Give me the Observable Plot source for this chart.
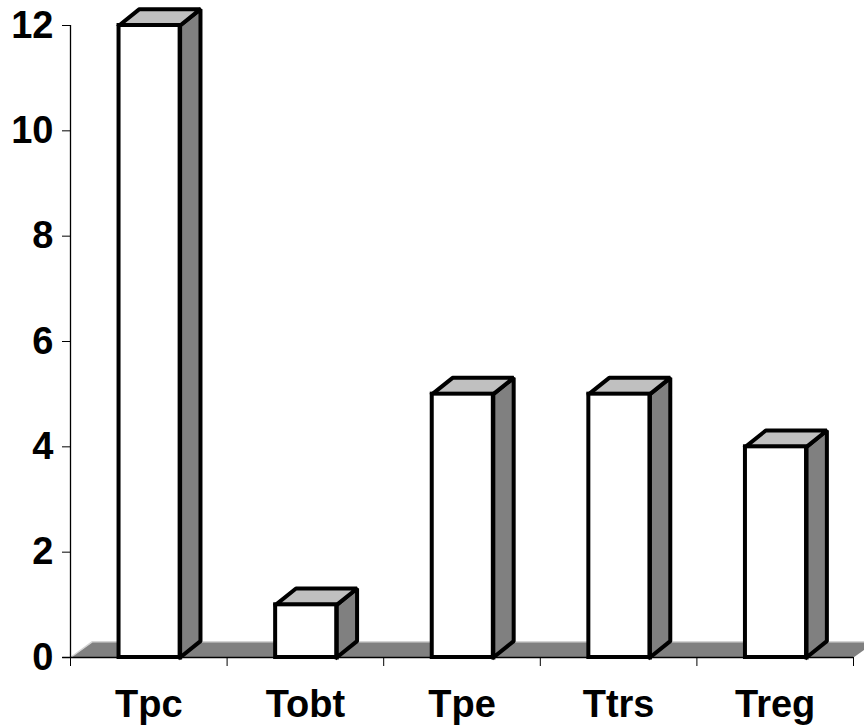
<!DOCTYPE html>
<html>
<head>
<meta charset="utf-8">
<script src="https://cdn.jsdelivr.net/npm/d3@7"></script>
<script src="https://cdn.jsdelivr.net/npm/@observablehq/plot@0.6"></script>
<style>
  html, body { margin: 0; padding: 0; background: #fff; }
  #chart { width: 864px; height: 727px; }
</style>
</head>
<body>
<div id="chart"></div>
<script>
// ---- data ----
const categories = ["Tpc", "Tobt", "Tpe", "Ttrs", "Treg"];
const values = [12, 1, 5, 5, 4];
const yTicks = [0, 2, 4, 6, 8, 10, 12];

// ---- 3D geometry (in data units) ----
const BAR0 = 0.31, BAR1 = 0.70;   // front face position within each category slot
const DX = 0.13, DY = 0.31;       // bar depth offset
const FDX = 0.14, FDY = 0.30;     // floor depth offset
const N = categories.length;

const bars = categories.map((c, i) => ({cat: c, v: values[i], x1: i + BAR0, x2: i + BAR1}));
const poly = (id, pts) => pts.map(([x, y]) => ({id, x, y}));

const topFaces = bars.flatMap(b => poly(b.cat, [[b.x1, b.v], [b.x2, b.v], [b.x2 + DX, b.v + DY], [b.x1 + DX, b.v + DY], [b.x1, b.v]]));
const sideFaces = bars.flatMap(b => poly(b.cat, [[b.x2, 0], [b.x2, b.v], [b.x2 + DX, b.v + DY], [b.x2 + DX, DY], [b.x2, 0]]));
const floor = poly("floor", [[0, 0], [N, 0], [N + FDX, FDY], [FDX, FDY], [0, 0]]);
const floorEdge = poly("edge", [[0, 0], [FDX, FDY], [N + FDX + 0.2, FDY]]);

const font = "'Liberation Sans', Arial, Helvetica, sans-serif";

const chart = Plot.plot({
  width: 864,
  height: 727,
  marginLeft: 70,
  marginRight: 11,
  marginTop: 25,
  marginBottom: 70,
  style: {fontFamily: font, fontSize: "38px", fontWeight: "bold", color: "#000", background: "#fff", overflow: "visible"},
  x: {domain: [0, N]},
  y: {domain: [0, 12]},
  marks: [
    // floor
    Plot.line(floor, {x: "x", y: "y", z: "id", fill: "#808080", stroke: "none"}),
    Plot.line(floorEdge, {x: "x", y: "y", z: "id", stroke: "#d4d4d4", strokeWidth: 1.5}),
    // axes lines
    Plot.ruleX([0], {y1: 0, y2: 12, stroke: "#000", strokeWidth: 1.3}),
    Plot.ruleY([0], {x1: -0.05, x2: N, stroke: "#000", strokeWidth: 1.3}),
    Plot.axisY({ticks: yTicks, tickSize: 8, tickPadding: 9, stroke: "#000", fontSize: 38, fontWeight: "bold"}),
    Plot.axisX({ticks: d3.range(0, N + 1), tickSize: 9, tickFormat: () => "", stroke: "#000"}),
    Plot.axisX({ticks: categories.map((c, i) => i + 0.5), tickSize: 0, tickPadding: 33,
      tickFormat: d => categories[Math.floor(d)], fontSize: 38, fontWeight: "bold"}),
    // bars
    Plot.line(sideFaces, {x: "x", y: "y", z: "id", fill: "#808080", stroke: "#000", strokeWidth: 4, strokeLinejoin: "miter", strokeLinecap: "square"}),
    Plot.line(topFaces, {x: "x", y: "y", z: "id", fill: "#c0c0c0", stroke: "#000", strokeWidth: 4, strokeLinejoin: "miter", strokeLinecap: "square"}),
    Plot.rect(bars, {x1: "x1", x2: "x2", y1: 0, y2: "v", fill: "#fff", stroke: "#000", strokeWidth: 4, strokeLinejoin: "miter"})
  ]
});
document.getElementById("chart").appendChild(chart);
</script>
</body>
</html>
